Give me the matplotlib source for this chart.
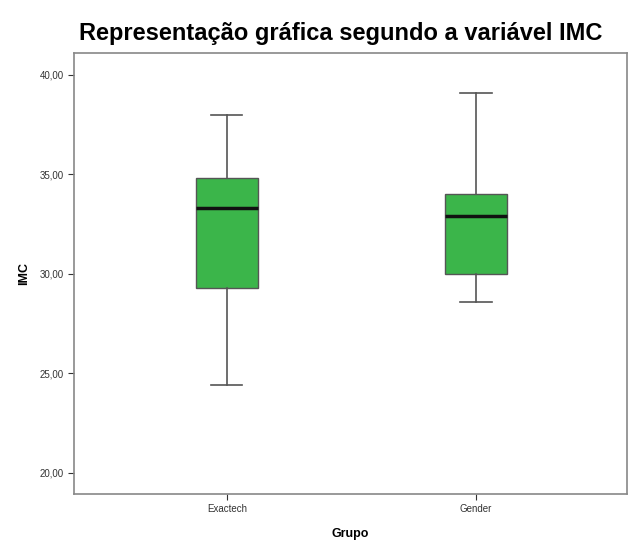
import matplotlib.pyplot as plt
from matplotlib.ticker import FuncFormatter

# Data
grupos = ['Exactech', 'Gender']
wlo = [24.4, 28.6]
q1 = [29.3, 30.0]
med = [33.3, 32.9]
q3 = [34.8, 34.0]
whi = [38.0, 39.1]

plt.rcParams['font.family'] = ['Liberation Sans', 'DejaVu Sans']

fig = plt.figure(figsize=(6.3, 5.41), dpi=100)
ax = fig.add_axes([0.1175, 0.087, 0.8775, 0.815])

stats = [dict(label=g, whislo=a, q1=b, med=c, q3=d, whishi=e, fliers=[])
         for g, a, b, c, d, e in zip(grupos, wlo, q1, med, q3, whi)]
ax.bxp(stats, positions=[1, 2], widths=0.25, patch_artist=True,
       boxprops=dict(facecolor='#3bb54a', edgecolor='#555555', linewidth=1),
       medianprops=dict(color='#111111', linewidth=2.5),
       whiskerprops=dict(color='#555555', linewidth=1.2),
       capprops=dict(color='#555555', linewidth=1.2),
       capwidths=0.125)

ax.set_xlim(0.386, 2.606)
ax.set_ylim(18.94, 41.1)
ax.set_yticks([20, 25, 30, 35, 40])
ax.yaxis.set_major_formatter(FuncFormatter(lambda v, p: f'{v:.2f}'.replace('.', ',')))
ax.tick_params(labelsize=7, colors='#333333', length=4)
for s in ax.spines.values():
    s.set_color('#888888')
    s.set_linewidth(1.2)

ax.set_xlabel('Grupo', fontsize=9, fontweight='bold', labelpad=10)
ax.set_ylabel('IMC', fontsize=9, fontweight='bold', labelpad=7)
fig.text(0.54, 0.939, 'Representação gráfica segundo a variável IMC',
         fontsize=17, fontweight='bold', ha='center', va='center')

plt.savefig('out.png', dpi=100)
